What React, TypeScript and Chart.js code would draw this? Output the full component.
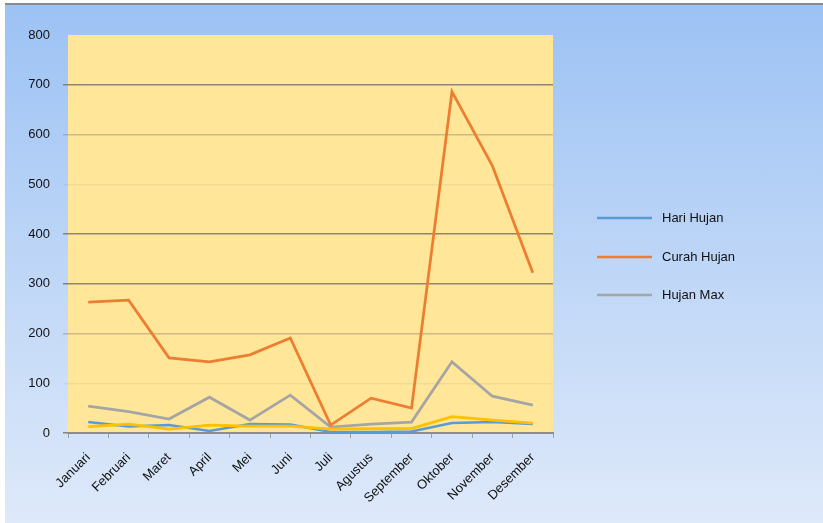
import React, { useEffect, useRef } from "react";
import { Chart, registerables } from "chart.js";
Chart.register(...registerables);

const months = ["Januari", "Februari", "Maret", "April", "Mei", "Juni", "Juli", "Agustus", "September", "Oktober", "November", "Desember"];
const hariHujan = [22, 13, 16, 4, 18, 17, 2, 2, 3, 20, 22, 18];
const curahHujan = [263, 267, 151, 143, 157, 191, 16, 70, 50, 686, 537, 322];
const hujanMax = [54, 43, 28, 72, 26, 76, 12, 18, 22, 143, 74, 56];
const seriesLain = [13, 18, 8, 16, 14, 14, 8, 9, 9, 33, 26, 20];
const seriesNames = ["Hari Hujan", "Curah Hujan", "Hujan Max"];
const yMin = 0;
const yMax = 800;
const yStep = 100;

const FONT = "'Liberation Sans', Arial, sans-serif";

const plotBg = {
  id: "plotBg",
  beforeDraw(chart: any) {
    const { ctx, chartArea } = chart;
    ctx.save();
    ctx.fillStyle = "#FFE699";
    ctx.fillRect(chartArea.left, chartArea.top, chartArea.right - chartArea.left, chartArea.bottom - chartArea.top);
    ctx.restore();
  },
};

const customLegend = {
  id: "customLegend",
  afterDraw(chart: any) {
    const { ctx, chartArea } = chart;
    const ys = [218, 257, 295];
    ctx.save();
    ctx.font = `13px ${FONT}`;
    ctx.textBaseline = "middle";
    ctx.textAlign = "left";
    for (let i = 0; i < 3; i++) {
      const ds = chart.data.datasets[i];
      const x0 = chartArea.right + 44;
      ctx.strokeStyle = ds.borderColor;
      ctx.lineWidth = 2.5;
      ctx.beginPath();
      ctx.moveTo(x0, ys[i]);
      ctx.lineTo(x0 + 55, ys[i]);
      ctx.stroke();
      ctx.fillStyle = "#111";
      ctx.fillText(ds.label, x0 + 65, ys[i]);
    }
    ctx.restore();
  },
};

function gridColor(v: number) {
  if (v === 100 || v === 500) return "rgba(140,135,115,0.12)";
  if (v === 200 || v === 600) return "rgba(140,135,115,0.45)";
  if (v === 800) return "rgba(0,0,0,0)";
  return "rgba(120,118,105,0.85)";
}

export default function App() {
  const ref = useRef<HTMLCanvasElement>(null);
  useEffect(() => {
    if (!ref.current) return;
    const chart = new Chart(ref.current, {
      type: "line",
      data: {
        labels: months,
        datasets: [
          { label: seriesNames[0], data: hariHujan, borderColor: "#5B9BD5", backgroundColor: "#5B9BD5", borderWidth: 2.5, pointRadius: 0, order: 3 },
          { label: seriesNames[1], data: curahHujan, borderColor: "#ED7D31", backgroundColor: "#ED7D31", borderWidth: 2.75, pointRadius: 0, order: 1 },
          { label: seriesNames[2], data: hujanMax, borderColor: "#A5A5A5", backgroundColor: "#A5A5A5", borderWidth: 2.75, pointRadius: 0, order: 2 },
          { label: "", data: seriesLain, borderColor: "#FFC000", backgroundColor: "#FFC000", borderWidth: 2.75, pointRadius: 0, order: 0 },
        ],
      },
      options: {
        animation: false,
        responsive: false,
        devicePixelRatio: 1,
        layout: { padding: { top: 35, right: 270, left: 0, bottom: 0 } },
        plugins: { legend: { display: false }, tooltip: { enabled: false } },
        scales: {
          x: {
            offset: true,
            grid: { offset: true, drawOnChartArea: false, drawTicks: true, tickLength: 5, color: "rgba(120,118,105,0.6)" },
            border: { display: true, color: "#8c8c8c", width: 2 },
            ticks: { maxRotation: 45, minRotation: 45, autoSkip: false, padding: 12, color: "#111", font: { family: FONT, size: 13 } },
            afterFit: (s: any) => { s.height = 90; },
          },
          y: {
            min: yMin,
            max: yMax,
            ticks: { stepSize: yStep, padding: 13, color: "#111", font: { family: FONT, size: 13 } },
            grid: { color: (c: any) => gridColor(c.tick ? c.tick.value : 0), lineWidth: 1.5, tickLength: 5 },
            border: { display: false },
            afterFit: (s: any) => { s.width = 68; },
          },
        },
      },
      plugins: [plotBg, customLegend],
    });
    return () => chart.destroy();
  }, []);
  return (
    <div style={{ position: "absolute", left: 0, top: 0, width: 823, height: 523, background: "#fff" }}>
      <div style={{ position: "absolute", left: 5, top: 3, width: 818, height: 520, borderTop: "2px solid #8a8a8a", boxSizing: "border-box", background: "linear-gradient(to bottom, #9CC2F4 0%, #BED6F7 50%, #DEE9FA 100%)" }} />
      <canvas ref={ref} width={823} height={523} style={{ position: "absolute", left: 0, top: 0, display: "block" }} />
    </div>
  );
}
